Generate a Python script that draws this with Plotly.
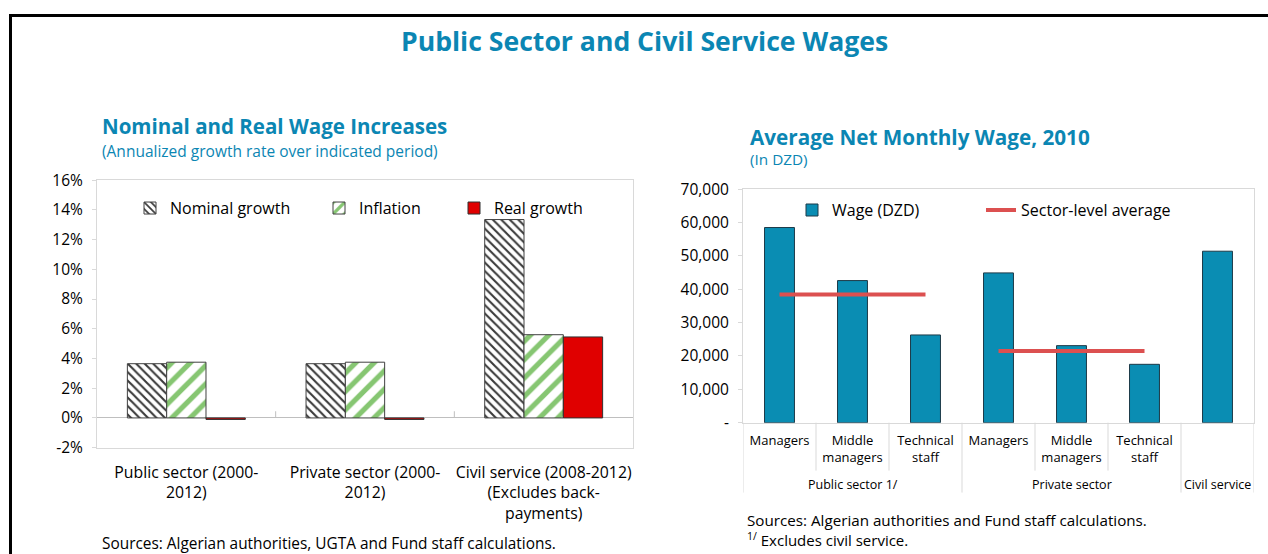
import plotly.graph_objects as go

# ---- Nominal and real wage increases (annualized, %) ----
growth_categories = [
    "Public sector (2000-<br>2012)",
    "Private sector (2000-<br>2012)",
    "Civil service (2008-2012)<br>(Excludes back-<br>payments)",
]
nominal_growth = [3.65, 3.65, 13.35]
inflation = [3.75, 3.75, 5.6]
real_growth = [-0.1, -0.1, 5.45]
growth_ticks = [-2, 0, 2, 4, 6, 8, 10, 12, 14, 16]

# ---- Average net monthly wage, 2010 (DZD) ----
wage_groups = ["Public sector 1/"] * 3 + ["Private sector"] * 3 + ["Civil service"]
wage_roles = ["Managers", "Middle<br>managers", "Technical<br>staff",
              "Managers", "Middle<br>managers", "Technical<br>staff", ""]
wages = [58500, 42600, 26300, 44900, 23100, 17500, 51400]
public_sector_average = 38400
private_sector_average = 21500
wage_ticks = [0, 10000, 20000, 30000, 40000, 50000, 60000, 70000]

W = 1268
H = 566
OFFSET, SCALE = 10.5, 0.963   # vertical placement of the figure on the page
FONT = "Open Sans"
BLUE = "#0b86b3"
GRID = "#d9d9d9"


def px(x):
    return x / W


def py(y):
    return 1 - ((y - OFFSET) / SCALE) / H


fig = go.Figure()

# Left panel bars
fig.add_trace(go.Bar(
    x=growth_categories, y=nominal_growth, name="Nominal growth",
    marker=dict(color="white", line=dict(color="#404040", width=1),
                pattern=dict(shape="\\", fgcolor="#3a3a3a", bgcolor="white",
                             size=6, solidity=0.35, fillmode="replace")),
    xaxis="x", yaxis="y", legend="legend",
))
fig.add_trace(go.Bar(
    x=growth_categories, y=inflation, name="Inflation",
    marker=dict(color="white", line=dict(color="#404040", width=1),
                pattern=dict(shape="/", fgcolor="#86c672", bgcolor="white",
                             size=13, solidity=0.4, fillmode="replace")),
    xaxis="x", yaxis="y", legend="legend2",
))
fig.add_trace(go.Bar(
    x=growth_categories, y=real_growth, name="Real growth",
    marker=dict(color="#e00000", line=dict(color="#303030", width=1)),
    xaxis="x", yaxis="y", legend="legend3",
))

# Right panel bars and sector averages (positions 0..n-1 on the category axis)
wage_pos = list(range(len(wages)))
fig.add_trace(go.Bar(
    x=wage_pos, y=wages, name="Wage (DZD)", width=0.41,
    marker=dict(color="#0a8db3", line=dict(color="#1d3a48", width=1)),
    xaxis="x2", yaxis="y2", legend="legend4",
))
pub_idx = [i for i, g in enumerate(wage_groups) if g == "Public sector 1/"]
prv_idx = [i for i, g in enumerate(wage_groups) if g == "Private sector"]
fig.add_trace(go.Scatter(
    x=pub_idx, y=[public_sector_average] * len(pub_idx), mode="lines",
    name="Sector-level average", line=dict(color="#dc5050", width=4),
    legendgroup="avg", xaxis="x2", yaxis="y2", legend="legend5",
))
fig.add_trace(go.Scatter(
    x=prv_idx, y=[private_sector_average] * len(prv_idx), mode="lines",
    name="Sector-level average", line=dict(color="#dc5050", width=4),
    legendgroup="avg", showlegend=False, xaxis="x2", yaxis="y2", legend="legend5",
))


def legend_at(x, y):
    return dict(orientation="h", x=px(x), y=py(y), xanchor="left", yanchor="middle",
                bgcolor="rgba(0,0,0,0)", font=dict(family=FONT, size=16, color="#000"),
                itemwidth=30, traceorder="normal")


tick_font = dict(family=FONT, size=15.5, color="#000")
labelled = [i for i, r in enumerate(wage_roles) if r]

fig.update_layout(
    width=W, height=H,
    margin=dict(l=0, r=0, t=0, b=0),
    paper_bgcolor="white", plot_bgcolor="white",
    font=dict(family=FONT, color="#000"),
    barmode="group", bargap=0.34, bargroupgap=0,
    showlegend=True,
    legend=legend_at(130, 207),
    legend2=legend_at(319, 207),
    legend3=legend_at(454, 207),
    legend4=legend_at(792, 209),
    legend5=legend_at(981, 209),
    xaxis=dict(domain=[px(97), px(633)], anchor="y", showline=True, mirror=True,
               linecolor=GRID, ticks="", tickfont=dict(family=FONT, size=15.8, color="#000"),
               ticklabelstandoff=10, fixedrange=True),
    yaxis=dict(domain=[py(447), py(179)], anchor="x", range=[-2, 16],
               tickvals=growth_ticks, ticktext=[f"{v}%" for v in growth_ticks],
               showgrid=False, showline=True, mirror=True, linecolor=GRID,
               ticks="outside", ticklen=4, tickcolor=GRID,
               zeroline=True, zerolinecolor="#bfbfbf", zerolinewidth=1,
               tickfont=tick_font, ticklabelstandoff=6),
    xaxis2=dict(domain=[px(743), px(1254)], anchor="y2", range=[-0.5, len(wages) - 0.5],
                tickvals=labelled, ticktext=[wage_roles[i] for i in labelled],
                showline=True, mirror=True, linecolor=GRID, showgrid=False,
                zeroline=False, ticks="", ticklabelstandoff=6,
                tickfont=dict(family=FONT, size=13, color="#000")),
    yaxis2=dict(domain=[py(422), py(188)], anchor="x2", range=[0, 70000],
                tickvals=wage_ticks,
                ticktext=["-" if v == 0 else f"{v:,}" for v in wage_ticks],
                showgrid=False, showline=True, mirror=True, linecolor=GRID,
                ticks="outside", ticklen=4, tickcolor=GRID, zeroline=False,
                tickfont=tick_font, ticklabelstandoff=6),
)

# Category boundary ticks on the zero line of the left panel
for b in range(1, len(growth_categories)):
    fig.add_shape(type="line", xref="x", yref="y", x0=b - 0.5, x1=b - 0.5, y0=0, y1=0.45,
                  line=dict(color="#bfbfbf", width=1))

# Two-level category dividers under the right panel
group_edges = [i for i in range(1, len(wage_groups)) if wage_groups[i] != wage_groups[i - 1]]
for b in range(len(wage_groups) + 1):
    is_group_edge = b in (0, len(wage_groups)) or b in group_edges
    fig.add_shape(type="line", xref="x2", yref="paper", x0=b - 0.5, x1=b - 0.5,
                  y0=py(492 if is_group_edge else 470), y1=py(422),
                  line=dict(color=GRID, width=1))
for g in dict.fromkeys(wage_groups):
    members = [i for i, gg in enumerate(wage_groups) if gg == g]
    fig.add_annotation(text=g, x=sum(members) / len(members), y=py(484), xref="x2", yref="paper",
                       xanchor="center", yanchor="middle", showarrow=False,
                       font=dict(family=FONT, size=12.5, color="#000"))


def note(text, x, y, size, color="#000", anchor="left"):
    fig.add_annotation(text=text, x=px(x), y=py(y), xref="paper", yref="paper",
                       xanchor=anchor, yanchor="middle", showarrow=False,
                       font=dict(family=FONT, size=size, color=color))


note("<b>Public Sector and Civil Service Wages</b>", 645, 40, 26.6, BLUE, "center")
note("<b>Nominal and Real Wage Increases</b>", 100, 125, 20.5, BLUE)
note("(Annualized growth rate over indicated period)", 100, 150, 15.5, BLUE)
note("<b>Average Net Monthly Wage, 2010</b>", 748, 136, 20.7, BLUE)
note("(In DZD)", 748, 158, 15.3, BLUE)
note("Sources: Algerian authorities, UGTA and Fund staff calculations.", 100, 543, 15.4)
note("Sources: Algerian authorities and Fund staff calculations.", 745, 519, 15.2)
note("<sup>1/</sup> Excludes civil service.", 745, 539, 15)

# Panel frame
fig.add_shape(type="line", xref="paper", yref="paper", x0=px(9), x1=1, y0=py(14), y1=py(14),
              line=dict(color="black", width=3))
fig.add_shape(type="line", xref="paper", yref="paper", x0=px(10.5), x1=px(10.5),
              y0=0, y1=py(13), line=dict(color="black", width=3))

fig.write_html("out.html")
